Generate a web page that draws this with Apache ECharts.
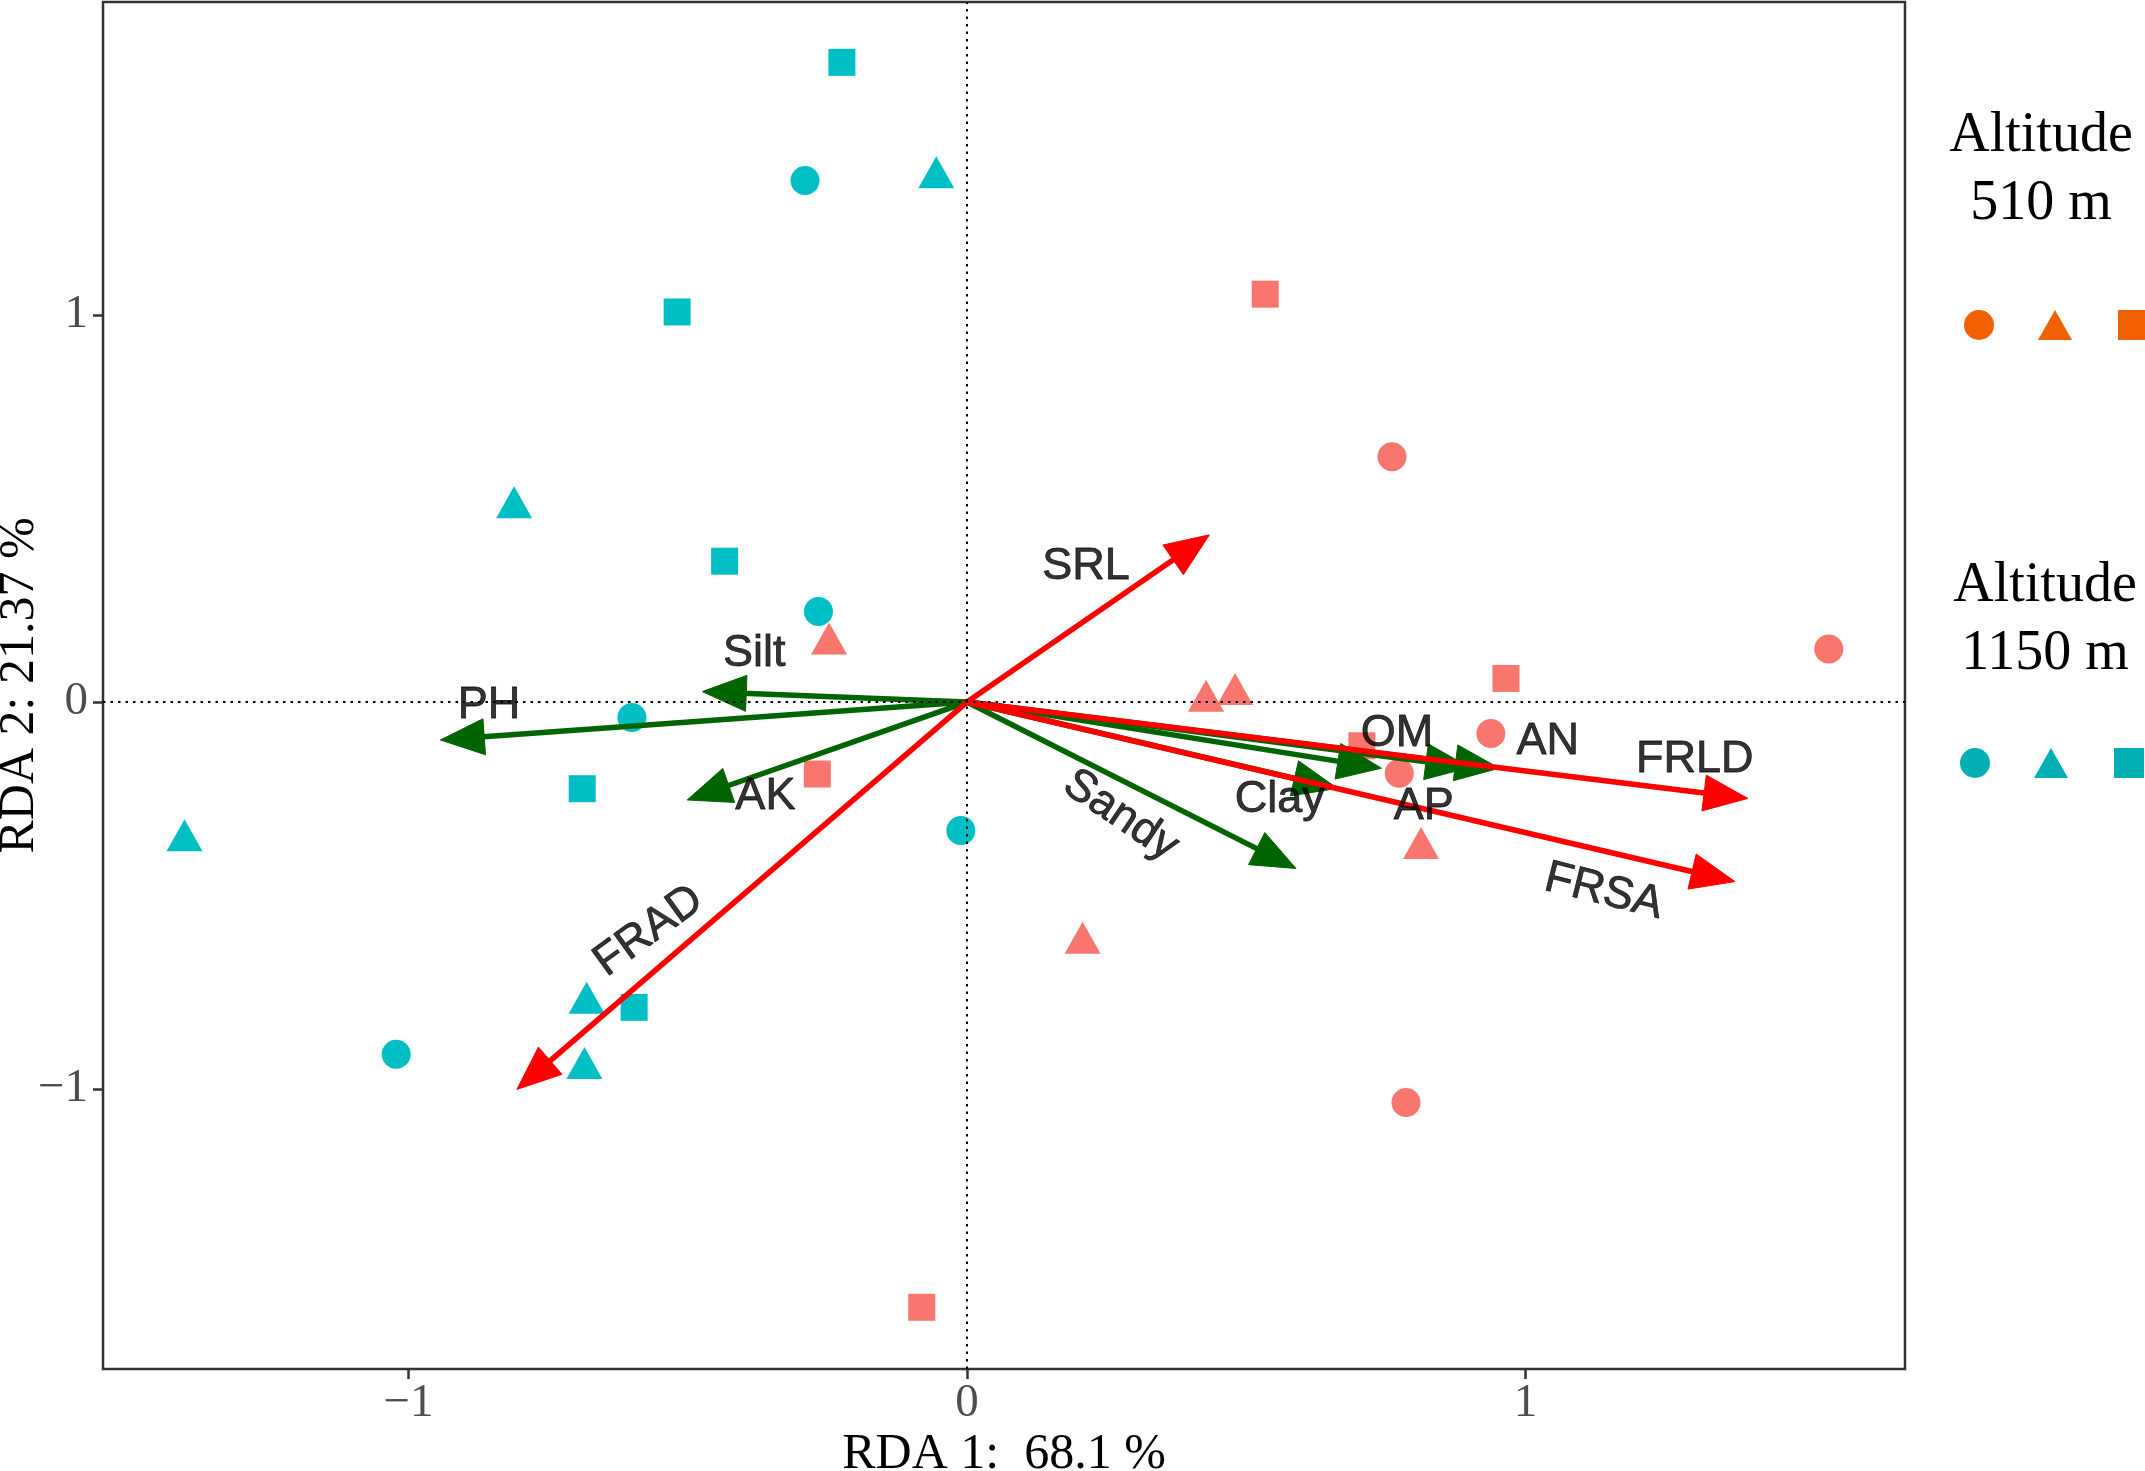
<!DOCTYPE html>
<html>
<head>
<meta charset="utf-8">
<script src="https://cdn.jsdelivr.net/npm/echarts@6/dist/echarts.min.js"></script>
<style>
html, body { margin: 0; padding: 0; background: #fff; }
#main { width: 2145px; height: 1471px; }
</style>
</head>
<body>
<div id="main"></div>
<script>
// site scores, altitude 510 m
const lowCircle = [[0.761, 0.634], [1.543, 0.137], [0.938, -0.081], [0.774, -0.184], [0.786, -1.035]];
const lowTriangle = [[-0.247, 0.164], [0.428, 0.016], [0.480, 0.034], [0.813, -0.364], [0.207, -0.609]];
const lowSquare = [[0.534, 1.054], [0.965, 0.061], [-0.268, -0.186], [0.707, -0.113], [-0.081, -1.564]];

// site scores, altitude 1150 m
const highCircle = [[-0.290, 1.348], [-0.266, 0.234], [-0.600, -0.040], [-0.011, -0.332], [-1.022, -0.910]];
const highTriangle = [[-0.055, 1.369], [-0.811, 0.516], [-1.401, -0.344], [-0.681, -0.764], [-0.685, -0.933]];
const highSquare = [[-0.224, 1.653], [-0.519, 1.008], [-0.434, 0.364], [-0.689, -0.224], [-0.596, -0.789]];

// soil variables (green arrows)
const envNames = ['PH', 'Silt', 'AK', 'Sandy', 'Clay', 'OM', 'AP', 'AN'];
const envArrows = [[-0.943, -0.098], [-0.474, 0.027], [-0.501, -0.253], [0.589, -0.430],
    [0.663, -0.223], [0.742, -0.171], [0.900, -0.169], [0.953, -0.171]];

// root traits (red arrows)
const rootNames = ['SRL', 'FRAD', 'FRLD', 'FRSA'];
const rootArrows = [[0.434, 0.432], [-0.806, -1.001], [1.398, -0.249], [1.375, -0.464]];

// arrow labels
const labelNames = ['SRL', 'Silt', 'PH', 'AK', 'FRAD', 'Sandy', 'Clay', 'OM', 'AP', 'AN', 'FRLD', 'FRSA'];
const labelPos = [[0.213, 0.349], [-0.381, 0.126], [-0.856, -0.008], [-0.361, -0.245], [-0.570, -0.592],
    [0.275, -0.293], [0.560, -0.253], [0.770, -0.081], [0.818, -0.270], [1.040, -0.103], [1.303, -0.150], [1.140, -0.490]];
const labelAngle = [0, 0, 0, 0, 36, -34, 0, 0, 0, 0, 0, -14];

const axisTicks = [-1, 0, 1];

const LOW = '#F8766D';
const HIGH = '#00BFC4';
const LOW_KEY = '#F26101';
const HIGH_KEY = '#02AFB2';
const SERIF = '"Liberation Serif", "Times New Roman", serif';
const SANS = '"Liberation Sans", Arial, sans-serif';

const chart = echarts.init(document.getElementById('main'));

function arrowRender(color) {
    return function (params, api) {
        const o = api.coord([0, 0]);
        const p = api.coord([api.value(0), api.value(1)]);
        const a = Math.atan2(p[1] - o[1], p[0] - o[0]);
        const len = 44, half = 18;
        const bx = p[0] - len * Math.cos(a), by = p[1] - len * Math.sin(a);
        const nx = -Math.sin(a) * half, ny = Math.cos(a) * half;
        return {
            type: 'group',
            children: [{
                type: 'line',
                shape: { x1: o[0], y1: o[1], x2: bx + 4 * Math.cos(a), y2: by + 4 * Math.sin(a) },
                style: { stroke: color, lineWidth: 5.5 }
            }, {
                type: 'polygon',
                shape: { points: [p, [bx + nx, by + ny], [bx - nx, by - ny]] },
                style: { fill: color, stroke: color, lineWidth: 1 }
            }]
        };
    };
}

function points(name, data, symbol, size, color) {
    return {
        name: name,
        type: 'scatter',
        data: data,
        symbol: symbol,
        symbolSize: size,
        itemStyle: { color: color, opacity: 1 },
        z: 2,
        silent: true
    };
}

const SQUARE = 'path://M0,0h10v10h-10z';

function axisCommon(name, gap, labelMargin) {
    return {
        type: 'value',
        name: name, nameLocation: 'middle', nameGap: gap, nameMoveOverlap: false,
        nameTextStyle: { fontFamily: SERIF, fontSize: 50, color: '#000' },
        axisLine: { show: false, onZero: false },
        splitLine: { show: false },
        axisTick: { show: true, inside: false, length: 10, customValues: axisTicks, lineStyle: { color: '#333', width: 2.5 } },
        axisLabel: {
            customValues: axisTicks, margin: labelMargin, fontFamily: SERIF, fontSize: 47, color: '#4D4D4D',
            formatter: v => v < 0 ? '\u2212' + (-v) : String(v)
        }
    };
}

const xAxis = axisCommon('RDA 1:  68.1 %', 61, 11);
xAxis.min = -1.547;
xAxis.max = 1.6795;
const yAxis = axisCommon('RDA 2: 21.37 %', 58, 15);
yAxis.min = -1.7235;
yAxis.max = 1.809;
yAxis.nameRotate = 90;

const option = {
    animation: false,
    backgroundColor: '#fff',
    grid: {
        show: true, left: 103, right: 240, top: 2, bottom: 102,
        borderColor: '#333', borderWidth: 2.5, outerBoundsMode: 'none'
    },
    xAxis: xAxis,
    yAxis: yAxis,
    legend: [{
        left: 1957, top: 305, width: 400, orient: 'horizontal',
        itemWidth: 34, itemHeight: 30, itemGap: 44, selectedMode: false,
        formatter: () => '',
        data: [
            { name: '510 m circle', icon: 'circle', itemStyle: { color: LOW_KEY } },
            { name: '510 m triangle', icon: 'triangle', itemStyle: { color: LOW_KEY } },
            { name: '510 m square', icon: SQUARE, itemStyle: { color: LOW_KEY } }
        ]
    }, {
        left: 1953, top: 743, width: 400, orient: 'horizontal',
        itemWidth: 34, itemHeight: 30, itemGap: 44, selectedMode: false,
        formatter: () => '',
        data: [
            { name: '1150 m circle', icon: 'circle', itemStyle: { color: HIGH_KEY } },
            { name: '1150 m triangle', icon: 'triangle', itemStyle: { color: HIGH_KEY } },
            { name: '1150 m square', icon: SQUARE, itemStyle: { color: HIGH_KEY } }
        ]
    }],
    graphic: [{
        type: 'text',
        style: {
            text: 'Altitude\n510 m', x: 2041, y: 102, align: 'center', verticalAlign: 'top',
            fontFamily: SERIF, fontSize: 56, lineHeight: 68, fill: '#000'
        }
    }, {
        type: 'text',
        style: {
            text: 'Altitude\n1150 m', x: 2045, y: 552, align: 'center', verticalAlign: 'top',
            fontFamily: SERIF, fontSize: 56, lineHeight: 68, fill: '#000'
        }
    }],
    series: [
        {
            // zero reference lines
            type: 'scatter', data: [], z: 1, silent: true,
            markLine: {
                silent: true, symbol: 'none', animation: false,
                label: { show: false },
                lineStyle: { color: '#000', type: [2.5, 5], width: 2 },
                data: [{ xAxis: 0 }, { yAxis: 0 }]
            }
        },
        points('510 m circle', lowCircle, 'circle', 29, LOW),
        points('510 m triangle', lowTriangle, 'triangle', [36, 32], LOW),
        points('510 m square', lowSquare, SQUARE, 27, LOW),
        points('1150 m circle', highCircle, 'circle', 29, HIGH),
        points('1150 m triangle', highTriangle, 'triangle', [36, 32], HIGH),
        points('1150 m square', highSquare, SQUARE, 27, HIGH),
        {
            type: 'custom', name: 'env', z: 3, silent: true,
            encode: { x: 0, y: 1 },
            renderItem: arrowRender('#006400'),
            data: envArrows
        },
        {
            type: 'custom', name: 'root', z: 3, silent: true,
            encode: { x: 0, y: 1 },
            renderItem: arrowRender('#FF0000'),
            data: rootArrows
        },
        {
            type: 'scatter', name: 'labels', z: 4, silent: true,
            symbolSize: 0,
            label: {
                show: true, position: 'inside', color: '#000',
                fontFamily: SANS, fontSize: 45,
                textBorderColor: '#000', textBorderWidth: 0.8,
                formatter: p => p.name
            },
            data: labelNames.map((n, i) => ({
                name: n, value: labelPos[i], label: { rotate: labelAngle[i] }
            }))
        }
    ]
};

chart.setOption(option);
</script>
</body>
</html>
